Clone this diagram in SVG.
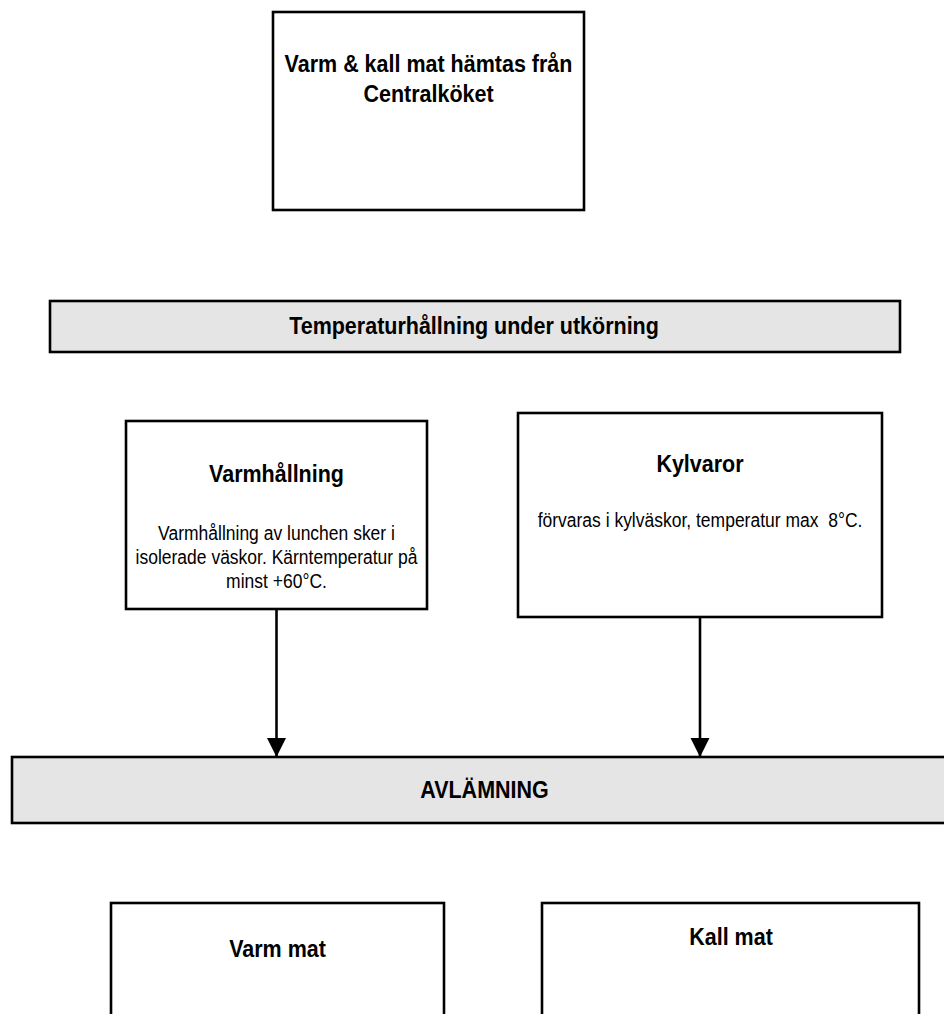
<svg xmlns="http://www.w3.org/2000/svg" width="944" height="1014" viewBox="0 0 944 1014">
<style>
.box{fill:#ffffff;stroke:#000000;stroke-width:2.6}
.bar{fill:#e5e5e5;stroke:#000000;stroke-width:2.6}
.t{font-family:"Liberation Sans",Arial,sans-serif;font-weight:bold;font-size:21.5px;fill:#000000;text-anchor:middle}
.b{font-family:"Liberation Sans",Arial,sans-serif;font-size:17.5px;fill:#000000;text-anchor:middle}
.conn{stroke:#000000;stroke-width:2.6;fill:none}
</style>
<defs>
<marker id="arrow" markerUnits="userSpaceOnUse" markerWidth="20" markerHeight="20" viewBox="0 0 20 20" refX="19" refY="10" orient="auto">
<path d="M0,0.5 L19,10 L0,19.5 Z" fill="#000000"/>
</marker>
</defs>
<rect width="944" height="1014" fill="#ffffff"/>
<g id="node-hamtas">
<rect class="box" x="273" y="12" width="311" height="198"/>
<text class="t" transform="translate(428.5,72) scale(1,1.15)">Varm &amp; kall mat hämtas från</text>
<text class="t" transform="translate(428.5,102) scale(1,1.15)">Centralköket</text>
</g>
<g id="node-temperatur">
<rect class="bar" x="50" y="301" width="850" height="51"/>
<text class="t" transform="translate(474,334) scale(1,1.15)">Temperaturhållning under utkörning</text>
</g>
<g id="node-varmhallning">
<rect class="box" x="126" y="421" width="301" height="188"/>
<text class="t" transform="translate(276.5,482) scale(1,1.15)">Varmhållning</text>
<text class="b" transform="translate(276.5,540) scale(1,1.2)">Varmhållning av lunchen sker i</text>
<text class="b" transform="translate(276.5,564) scale(1,1.2)">isolerade väskor. Kärntemperatur på</text>
<text class="b" transform="translate(276.5,588) scale(1,1.2)">minst +60°C.</text>
</g>
<g id="node-kylvaror">
<rect class="box" x="518" y="413" width="364" height="204"/>
<text class="t" transform="translate(700,472) scale(1,1.15)">Kylvaror</text>
<text class="b" transform="translate(700,527) scale(1,1.2)">förvaras i kylväskor, temperatur max &#160;8°C.</text>
</g>
<g id="node-avlamning">
<rect class="bar" x="12" y="757" width="950" height="66"/>
<text class="t" transform="translate(484.5,798) scale(1,1.15)">AVLÄMNING</text>
</g>
<g id="node-varm-mat">
<rect class="box" x="111" y="903" width="333" height="130"/>
<text class="t" transform="translate(277.5,957) scale(1,1.15)">Varm mat</text>
</g>
<g id="node-kall-mat">
<rect class="box" x="542" y="903" width="377" height="130"/>
<text class="t" transform="translate(731,945) scale(1,1.15)">Kall mat</text>
</g>
<g id="connectors">
<line class="conn" x1="276.5" y1="609" x2="276.5" y2="757" marker-end="url(#arrow)"/>
<line class="conn" x1="700" y1="617" x2="700" y2="757" marker-end="url(#arrow)"/>
</g>
</svg>
